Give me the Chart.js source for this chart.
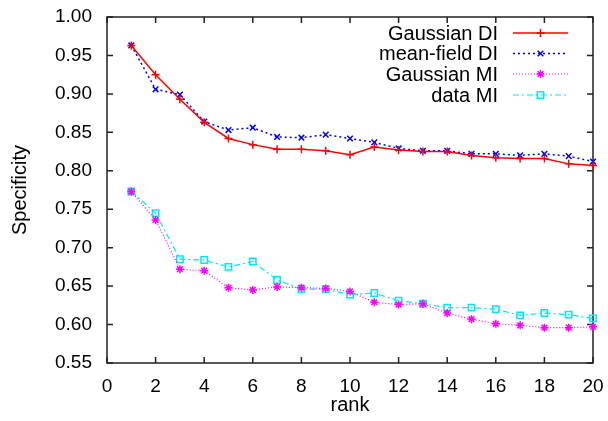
<!DOCTYPE html>
<html>
<head>
<meta charset="utf-8">
<script src="https://cdn.jsdelivr.net/npm/chart.js@4.4.1/dist/chart.umd.min.js"></script>
<style>
  body { margin: 0; background: #fff; }
  #wrap { width: 608px; height: 421px; }
</style>
</head>
<body>
<div id="wrap"><canvas id="myChart" width="608" height="421"></canvas></div>
<script>
// values
const ranks = [1, 2, 3, 4, 5, 6, 7, 8, 9, 10, 11, 12, 13, 14, 15, 16, 17, 18, 19, 20]
const gaussianDI = [0.963, 0.925, 0.893, 0.863, 0.842, 0.834, 0.828, 0.828, 0.826, 0.821,
                    0.831, 0.827, 0.825, 0.825, 0.820, 0.817, 0.816, 0.816, 0.809, 0.807]
const meanFieldDI = [0.963, 0.906, 0.899, 0.864, 0.853, 0.856, 0.844, 0.843, 0.847, 0.842,
                     0.837, 0.829, 0.826, 0.826, 0.822, 0.822, 0.820, 0.822, 0.819, 0.812]
const gaussianMI = [0.773, 0.736, 0.672, 0.670, 0.648, 0.645, 0.649, 0.648, 0.647, 0.643,
                    0.629, 0.626, 0.627, 0.615, 0.607, 0.601, 0.599, 0.596, 0.596, 0.597]
const dataMI = [0.773, 0.745, 0.685, 0.684, 0.675, 0.682, 0.658, 0.646, 0.646, 0.639,
                0.641, 0.631, 0.627, 0.622, 0.622, 0.620, 0.612, 0.615, 0.613, 0.608]
const seriesNames = ['Gaussian DI', 'mean-field DI', 'Gaussian MI', 'data MI']

const FONT = "'Liberation Sans', Arial, Helvetica, sans-serif"

function points(vals) {
    return ranks.map((r, i) => ({x: r, y: vals[i]}))
}

// fixed axis sizes, no extra room for overflowing labels
function fitTo(w, h) {
    return scale => {
        if (w) scale.width = w
        if (h) scale.height = h
        scale.paddingTop = 0
        scale.paddingBottom = 0
        scale.paddingLeft = 0
        scale.paddingRight = 0
    }
}

// gnuplot style box with ticks pointing inwards, and legend at top right
const gnuplotFrame = {
    id: 'gnuplotFrame',
    beforeDatasetsDraw(chart) {
        const ctx = chart.ctx
        const a = chart.chartArea
        const xs = chart.scales.x
        const ys = chart.scales.y
        const tl = 6
        ctx.save()
        ctx.strokeStyle = '#222'
        ctx.lineWidth = 1.5
        ctx.beginPath()
        xs.ticks.forEach(t => {
            const px = xs.getPixelForValue(t.value)
            ctx.moveTo(px, a.bottom); ctx.lineTo(px, a.bottom - tl)
            ctx.moveTo(px, a.top); ctx.lineTo(px, a.top + tl)
        })
        ys.ticks.forEach(t => {
            const py = ys.getPixelForValue(t.value)
            ctx.moveTo(a.left, py); ctx.lineTo(a.left + tl, py)
            ctx.moveTo(a.right, py); ctx.lineTo(a.right - tl, py)
        })
        ctx.stroke()
        ctx.strokeRect(a.left, a.top, a.right - a.left, a.bottom - a.top)
        ctx.restore()
    },
    afterDraw(chart) {
        const ctx = chart.ctx
        const textRight = 498
        const lineFrom = 513
        const lineTo = 568
        const rowY = [33, 53.5, 74, 95]
        ctx.save()
        ctx.font = '20px ' + FONT
        ctx.fillStyle = '#000'
        ctx.textAlign = 'right'
        ctx.textBaseline = 'middle'
        chart.data.datasets.forEach((ds, i) => {
            const y = rowY[i]
            ctx.fillText(ds.label, textRight, y + 1)
            ctx.save()
            ctx.strokeStyle = ds.borderColor
            ctx.lineWidth = ds.borderWidth
            ctx.setLineDash(ds.borderDash || [])
            ctx.beginPath()
            ctx.moveTo(lineFrom, y); ctx.lineTo(lineTo, y)
            ctx.stroke()
            ctx.restore()
            ctx.save()
            ctx.strokeStyle = ds.borderColor
            ctx.fillStyle = ds.pointBackgroundColor
            ctx.lineWidth = ds.pointBorderWidth
            Chart.helpers.drawPoint(ctx, {pointStyle: ds.pointStyle, radius: ds.pointRadius, rotation: 0, borderWidth: ds.pointBorderWidth}, (lineFrom + lineTo) / 2, y)
            ctx.restore()
        })
        ctx.restore()
    }
}

const ctx = document.getElementById('myChart')
const myChart = new Chart(ctx, {
    type: 'line',
    data: {
        datasets: [{
            label: seriesNames[0],
            data: points(gaussianDI),
            borderColor: '#ff0000',
            borderWidth: 1.5,
            pointStyle: 'cross',
            pointRadius: 4,
            pointBorderWidth: 1.5,
            pointBackgroundColor: '#ff0000'
        }, {
            label: seriesNames[1],
            data: points(meanFieldDI),
            borderColor: '#0000ff',
            borderWidth: 1.5,
            borderDash: [2, 3],
            pointStyle: 'crossRot',
            pointRadius: 4,
            pointBorderWidth: 1.5,
            pointBackgroundColor: '#0000ff'
        }, {
            label: seriesNames[2],
            data: points(gaussianMI),
            borderColor: '#ff00ff',
            borderWidth: 1.2,
            borderDash: [1, 2],
            pointStyle: 'star',
            pointRadius: 4,
            pointBorderWidth: 1.5,
            pointBackgroundColor: '#ff00ff'
        }, {
            label: seriesNames[3],
            data: points(dataMI),
            borderColor: '#00e8f0',
            borderWidth: 1.2,
            borderDash: [6, 3, 2, 3],
            pointStyle: 'rect',
            pointRadius: 4.5,
            pointBorderWidth: 1.5,
            pointBackgroundColor: 'rgba(255,255,255,0)'
        }]
    },
    options: {
        responsive: false,
        animation: false,
        layout: { padding: { top: 17, right: 15, left: 0, bottom: 0 } },
        elements: { line: { tension: 0, fill: false } },
        datasets: { line: { clip: false } },
        plugins: {
            legend: { display: false },
            tooltip: { enabled: false }
        },
        scales: {
            x: {
                type: 'linear',
                min: 0,
                max: 20,
                grid: { display: false, drawTicks: false },
                border: { display: false },
                ticks: { stepSize: 2, padding: 12, color: '#000', font: { family: FONT, size: 19 } },
                title: { display: true, text: 'rank', color: '#000', padding: { top: 0, bottom: 4 }, font: { family: FONT, size: 20 } },
                afterFit: fitTo(0, 58)
            },
            y: {
                min: 0.55,
                max: 1.0,
                grid: { display: false, drawTicks: false },
                border: { display: false },
                ticks: {
                    stepSize: 0.05,
                    padding: 15,
                    color: '#000',
                    font: { family: FONT, size: 19 },
                    callback: v => v.toFixed(2)
                },
                title: { display: true, text: 'Specificity', color: '#000', padding: { top: 8, bottom: 0 }, font: { family: FONT, size: 20 } },
                afterFit: fitTo(107, 0)
            }
        }
    },
    plugins: [gnuplotFrame]
})
</script>
</body>
</html>
